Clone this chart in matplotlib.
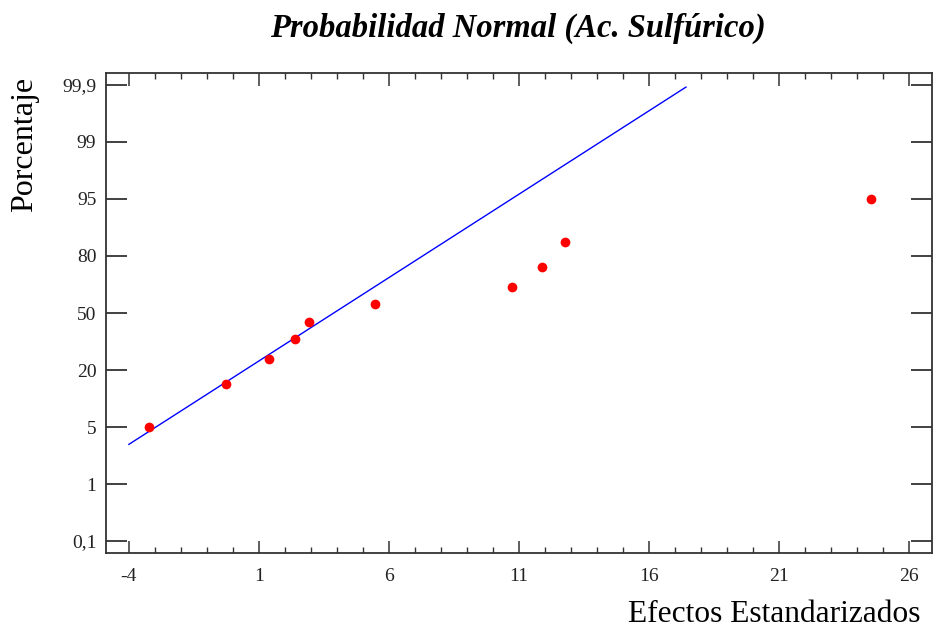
import math
import numpy as np
import matplotlib
matplotlib.use('Agg')
import matplotlib.pyplot as plt
from matplotlib.ticker import FixedLocator, FixedFormatter, MultipleLocator, NullLocator

# datos
efectos = [-3.23, -0.27, 1.38, 2.38, 2.92, 5.46, 10.73, 11.88, 12.77, 24.54]
porcentaje = [5, 15, 25, 35, 45, 55, 65, 75, 85, 95]
linea_x = [-4.0, 17.42]
linea_p = [3.2, 99.89]
ticks_pct = [0.1, 1, 5, 20, 50, 80, 95, 99, 99.9]
ticks_lbl = ['0,1', '1', '5', '20', '50', '80', '95', '99', '99,9']
x_ticks = [-4, 1, 6, 11, 16, 21, 26]

plt.rcParams['font.family'] = ['Liberation Serif', 'DejaVu Serif']
plt.rcParams['axes.unicode_minus'] = False

# escala de probabilidad normal (por tramos entre las marcas)
zgrid = np.linspace(-6, 6, 24001)
cdf = 0.5 * (1 + np.array([math.erf(v / math.sqrt(2)) for v in zgrid]))
z_t = np.interp(np.array(ticks_pct) / 100, cdf, zgrid)
pos_t = np.arange(len(ticks_pct), dtype=float)
lo = pos_t[0] - (z_t[0] + 6) / (z_t[1] - z_t[0])
hi = pos_t[-1] + (6 - z_t[-1]) / (z_t[-1] - z_t[-2])
z_ext = np.concatenate([[-6], z_t, [6]])
pos_ext = np.concatenate([[lo], pos_t, [hi]])


def fwd(p):
    p = np.clip(np.asarray(p, dtype=float), 1e-7, 100 - 1e-7)
    z = np.interp(p / 100, cdf, zgrid)
    return np.interp(z, z_ext, pos_ext)


def inv(y):
    z = np.interp(np.asarray(y, dtype=float), pos_ext, z_ext)
    return 100 * np.interp(z, zgrid, cdf)


fig = plt.figure(figsize=(9.33, 6.29), dpi=100)
ax = fig.add_axes([106 / 933, 76 / 629, 826 / 933, 480 / 629])

ax.plot(linea_x, linea_p, color='#0000ff', linewidth=1.0)
ax.plot(efectos, porcentaje, 'o', color='#ff0000', markersize=7,
        markeredgewidth=0)

ax.set_yscale('function', functions=(fwd, inv))
ax.set_ylim(inv(-0.21), inv(8.21))
ax.set_xlim(-4.88, 26.88)

ax.yaxis.set_major_locator(FixedLocator(ticks_pct))
ax.yaxis.set_major_formatter(FixedFormatter(ticks_lbl))
ax.yaxis.set_minor_locator(NullLocator())
ax.xaxis.set_major_locator(FixedLocator(x_ticks))
ax.xaxis.set_minor_locator(MultipleLocator(1))

for s in ax.spines.values():
    s.set_color('#333333')
    s.set_linewidth(1.3)

ax.tick_params(axis='y', which='major', direction='in', length=15, width=1.3,
               color='#333333', right=True, labelsize=14,
               labelcolor='#222222', pad=7)
ax.tick_params(axis='x', which='major', direction='in', length=9, width=1.1,
               color='#333333', top=True, labelsize=14,
               labelcolor='#222222', pad=11)
ax.tick_params(axis='x', which='minor', direction='in', length=4, width=1.0,
               color='#333333', top=True)

fig.text(518 / 933, 1 - 28 / 629, 'Probabilidad Normal (Ac. Sulfúrico)',
         ha='center', va='center', fontsize=23.5, fontweight='bold',
         fontstyle='italic')
fig.text(25 / 933, 1 - 144 / 629, 'Porcentaje', rotation=90,
         ha='center', va='center', fontsize=23)
fig.text(920 / 933, 1 - 614 / 629, 'Efectos Estandarizados',
         ha='right', va='center', fontsize=22.7)

fig.savefig('out.png', dpi=100)
